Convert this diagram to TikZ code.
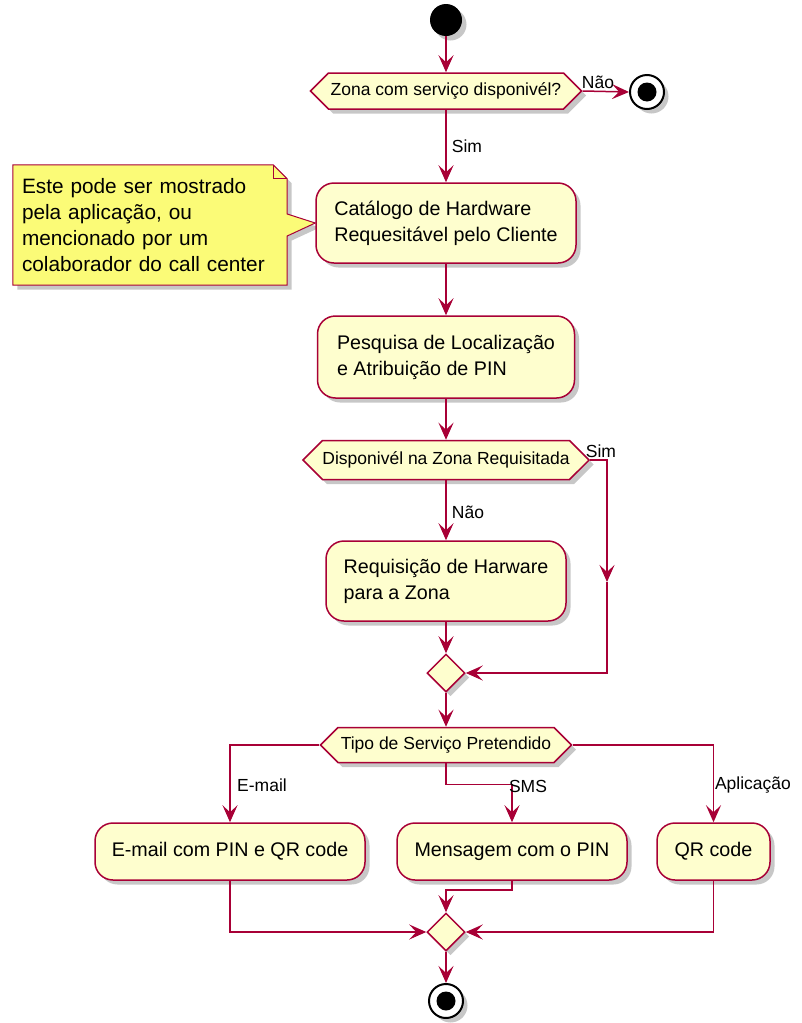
\documentclass[tikz,border=0pt]{standalone}
\usepackage{fontspec}
\setmainfont{Liberation Sans}
\usetikzlibrary{shapes.geometric,shapes.symbols,arrows.meta,shadows,calc,backgrounds}
\definecolor{umlred}{HTML}{A80036}
\definecolor{umlfill}{HTML}{FEFECE}
\definecolor{notefill}{HTML}{FBFB77}

\begin{document}
\begin{tikzpicture}[x=1pt,y=-1pt,
  castshadow/.style={drop shadow={shadow xshift=4.5pt,shadow yshift=-4.5pt,opacity=0.22,fill=black}},
  flow/.style={draw=umlred,line width=1.5pt,-{Stealth[length=17pt,width=15pt,inset=7pt]}},
  action/.style={rectangle,rounded corners=18pt,draw=umlred,fill=umlfill,line width=1.5pt,castshadow,align=left,font=\fontsize{19.7}{26}\selectfont,inner sep=0pt},
  choice/.style={signal,signal to=west and east,signal pointer angle=90,draw=umlred,fill=umlfill,line width=1.5pt,castshadow,font=\fontsize{17.5}{21}\selectfont,inner sep=0pt},
  merge/.style={diamond,draw=umlred,fill=umlfill,line width=1.5pt,castshadow,minimum width=38pt,minimum height=38pt,inner sep=0pt},
  startdot/.style={circle,fill=black,minimum size=32pt,inner sep=0pt,castshadow},
  endring/.style={circle,draw=black,fill=white,line width=2pt,minimum size=34pt,inner sep=0pt,castshadow},
  enddot/.style={circle,fill=black,minimum size=19pt,inner sep=0pt},
  lbl/.style={font=\fontsize{17.5}{21}\selectfont,inner sep=0pt},
]
\useasboundingbox (0,0) rectangle (802,1023);

% start and first decision
\node[startdot] (start) at (446,20) {};
\node[choice,minimum width=271pt,minimum height=36pt] (d1) at (446,91) {Zona com serviço disponivél?};
\node[endring] (stop1) at (647,92) {};
\node[enddot] (stop1dot) at (stop1) {};

% actions
\node[action,minimum width=260pt,minimum height=80pt] (b1) at (446,223) {Catálogo de Hardware\\Requesitável pelo Cliente};
\node[action,minimum width=257pt,minimum height=82pt] (b2) at (446,357) {Pesquisa de Localização\\e Atribuição de PIN};
\node[choice,minimum width=282pt,minimum height=39pt] (d2) at (446,460) {Disponivél na Zona Requisitada};
\node[action,minimum width=240pt,minimum height=80pt] (b3) at (446,581) {Requisição de Harware\\para a Zona};
\node[merge] (m1) at (446,673) {};
\node[choice,minimum width=251pt,minimum height=35pt] (d3) at (446,745) {Tipo de Serviço Pretendido};
\node[action,minimum width=270pt,minimum height=57pt] (e) at (230,851.5) {E-mail com PIN e QR code};
\node[action,minimum width=230pt,minimum height=57pt] (sms) at (512,851.5) {Mensagem com o PIN};
\node[action,minimum width=113pt,minimum height=57pt] (qr) at (713.5,851.5) {QR code};
\node[merge] (m2) at (446,932) {};
\node[endring] (stop2) at (446,1001) {};
\node[enddot] (stop2dot) at (stop2) {};

% note attached to the catalogue action
\node[align=left,text width=256pt,inner xsep=9pt,inner ysep=0pt,minimum height=120pt,
      font=\fontsize{20.8}{26}\selectfont] (note) at (150,225)
  {Este pode ser mostrado\\pela aplicação, ou\\mencionado por um\\colaborador do call center};
\begin{scope}[on background layer]
  \path[draw=umlred,fill=notefill,line width=1pt,castshadow]
    (note.north west) -- ($(note.north east)+(-14,0)$) -- ($(note.north east)+(0,14)$)
    -- ($(note.east)+(0,-11)$) -- (b1.west) -- ($(note.east)+(0,11)$)
    -- (note.south east) -- (note.south west) -- cycle;
  \draw[umlred,line width=1pt] ($(note.north east)+(-14,0)$) -- ($(note.north east)+(-14,14)$) -- ($(note.north east)+(0,14)$);
\end{scope}

% connectors
\draw[flow] (start.south) -- (d1.north);
\draw[flow] (d1.east) -- (stop1.west);
\draw[flow] (d1.south) -- (b1.north);
\draw[flow] (b1.south) -- (b2.north);
\draw[flow] (b2.south) -- (d2.north);
\draw[flow] (d2.south) -- (b3.north);
\draw[flow] (b3.south) -- (m1.north);
\coordinate (simturn) at (607,582);
\draw[flow] (d2.east) -| (simturn);
\draw[flow] (simturn) |- (m1.east);
\draw[flow] (m1.south) -- (d3.north);
\draw[flow] (d3.west) -| (e.north);
\draw[flow] (d3.south) -- ++(0,21) -| (sms.north);
\draw[flow] (d3.east) -| (qr.north);
\draw[flow] (e.south) |- (m2.west);
\draw[flow] (sms.south) -- ++(0,9) -| (m2.north);
\draw[flow] (qr.south) |- (m2.east);
\draw[flow] (m2.south) -- (stop2.north);

% branch labels
\node[lbl] (nao1) at (598,82) {Não};
\node[lbl] (sim1) at (467,146) {Sim};
\node[lbl] (sim2) at (601,451) {Sim};
\node[lbl] (nao2) at (468,512) {Não};
\node[lbl] (lemail) at (262,785) {E-mail};
\node[lbl] (lsms) at (528,786) {SMS};
\node[lbl] (lapp) at (753,785) {Aplicação};
\end{tikzpicture}
\end{document}
